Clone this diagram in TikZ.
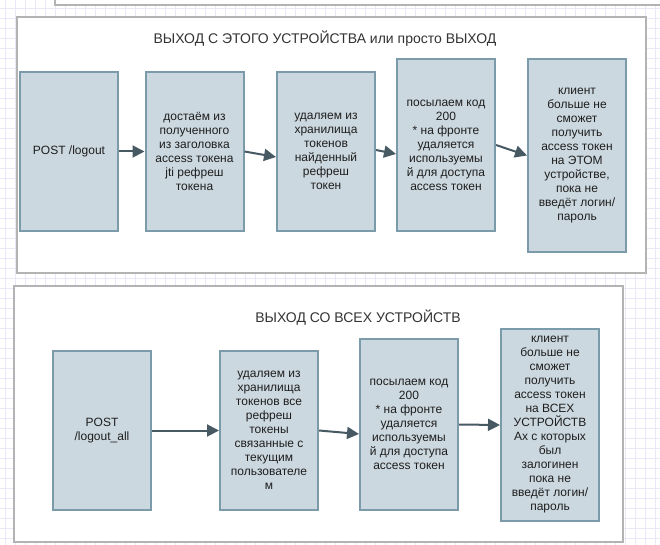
\documentclass[tikz,border=0pt]{standalone}
\usepackage{fontspec}
\setmainfont{Liberation Sans}
\usepackage{tikz}
\usetikzlibrary{arrows.meta,positioning}

\definecolor{boxfill}{HTML}{CCD8DF}
\definecolor{boxline}{HTML}{7C9BAA}
\definecolor{flowline}{HTML}{475A64}
\definecolor{panelline}{HTML}{B3B3B3}
\definecolor{gridline}{HTML}{EAE8F8}
\definecolor{boxtext}{HTML}{1E1E1E}

\tikzset{
  panel/.style={draw=panelline, line width=1.6pt, fill=white},
  title/.style={text=black!80, font=\fontsize{14}{16}\selectfont, inner sep=0pt},
  stepbox/.style={draw=boxline, line width=2pt, fill=boxfill, text=boxtext,
    align=center, minimum width=98pt, minimum height=159pt, inner sep=0pt,
    font=\fontsize{12}{14}\selectfont},
  flow/.style={draw=flowline, line width=2pt, -{Triangle[length=12pt,width=12pt]}}
}

\begin{document}
\begin{tikzpicture}[x=1pt,y=-1pt]
  \useasboundingbox (0,0) rectangle (660,545);
  \clip (0,0) rectangle (660,545);
  % background grid
  \foreach \gx in {5,15,...,655}
    \draw[gridline, line width=0.8pt] (\gx,0) -- (\gx,545);
  \foreach \gy in {8,18,...,538}
    \draw[gridline, line width=0.8pt] (0,\gy) -- (660,\gy);

  % panel above, cut off
  \draw[panel] (55,-20) rectangle (680,5);

  % first panel
  \draw[panel] (17,17) rectangle (646,273);
  \node[title] (t1) at (325,39) {ВЫХОД С ЭТОГО УСТРОЙСТВА или просто ВЫХОД};

  \node[stepbox] (b1) at (69,151.5) {POST /logout};
  \node[stepbox] (b2) at (194.5,151.5) {достаём из\\полученного\\из заголовка\\access токена\\jti рефреш\\токена};
  \node[stepbox] (b3) at (326,151.5) {удаляем из\\хранилища\\токенов\\найденный\\рефреш\\токен};
  \node[stepbox, minimum height=172pt] (b4) at (446,145) {посылаем код\\200\\* на фронте\\удаляется\\используемы\\й для доступа\\access токен};
  \node[stepbox, minimum height=193pt] (b5) at (577,155.5) {клиент\\больше не\\сможет\\получить\\access токен\\на ЭТОМ\\устройстве,\\пока не\\введёт логин/\\пароль};

  \draw[flow] (b1.east) -- (b2.west);
  \draw[flow] (b2.east) -- ([yshift=-5.5pt]b3.west);
  \draw[flow] ([yshift=1.5pt]b3.east) -- ([yshift=-9pt]b4.west);
  \draw[flow] (b4.east) -- (b5.west);

  % second panel
  \draw[panel] (14,286) rectangle (623,542);
  \node[title] (t2) at (358,318) {ВЫХОД СО ВСЕХ УСТРОЙСТВ};

  \node[stepbox] (c1) at (102,430.5) {POST\\/logout\_all};
  \node[stepbox] (c2) at (269,430.5) {удаляем из\\хранилища\\токенов все\\рефреш\\токены\\связанные с\\текущим\\пользователе\\м};
  \node[stepbox, minimum height=171pt] (c3) at (409,424.5) {посылаем код\\200\\* на фронте\\удаляется\\используемы\\й для доступа\\access токен};
  \node[stepbox, minimum height=192pt] (c4) at (550,425) {клиент\\больше не\\сможет\\получить\\access токен\\на ВСЕХ\\УСТРОЙСТВ\\Ах с которых\\был\\залогинен\\пока не\\введёт логин/\\пароль};

  \draw[flow] (c1.east) -- (c2.west);
  \draw[flow] (c2.east) -- ([yshift=-9.5pt]c3.west);
  \draw[flow] (c3.east) -- (c4.west);
\end{tikzpicture}
\end{document}
